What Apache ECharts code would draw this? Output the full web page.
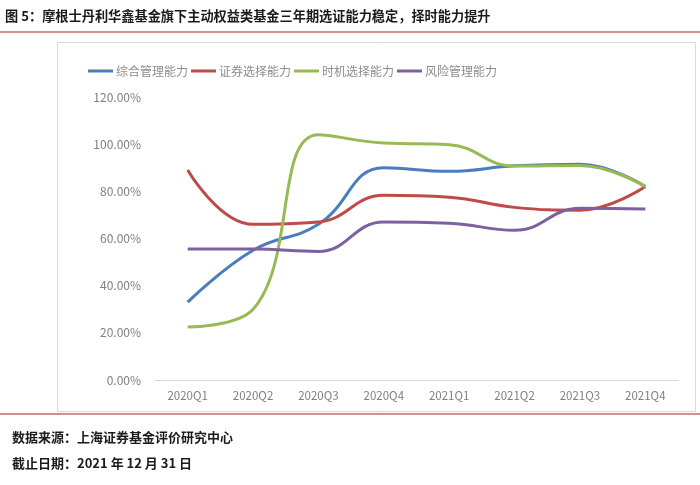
<!DOCTYPE html>
<html><head><meta charset="utf-8">
<script src="https://cdn.jsdelivr.net/npm/echarts@6/dist/echarts.min.js"></script>
<style>html,body{margin:0;padding:0;background:#fff}#c{width:700px;height:485px}</style>
</head><body><div id="c"></div>
<script>
const titleText = '图 5：摩根士丹利华鑫基金旗下主动权益类基金三年期选证能力稳定，择时能力提升';
const sourceText = '数据来源：上海证券基金评价研究中心';
const dateText = '截止日期：2021 年 12 月 31 日';
const categories = ['2020Q1','2020Q2','2020Q3','2020Q4','2021Q1','2021Q2','2021Q3','2021Q4'];
const seriesNames = ['综合管理能力','证券选择能力','时机选择能力','风险管理能力'];
const overall   = [33, 55, 66, 90, 88.5, 90.8, 91.5, 82];
const selection = [89, 66, 67, 78.3, 77.5, 73.2, 72, 82];
const timing    = [22.5, 30, 104, 100.5, 99.8, 90.7, 91, 82];
const risk      = [55.5, 55.5, 54.5, 67, 66.5, 63.5, 72.8, 72.5];
const colors = ['#4a7ebb','#be4b48','#98b954','#7d60a0'];
const seriesData = [overall, selection, timing, risk];

const chart = echarts.init(document.getElementById('c'));
const cjk = 'Noto Sans CJK SC';
chart.setOption({
  animation: false,
  backgroundColor: '#fff',
  graphic: [
    {type:'text', left:5, top:9, style:{text:titleText, font:'bold 13.2px "Noto Sans CJK SC"', fill:'#1a1a1a'}},
    {type:'rect', shape:{x:0,y:31,width:700,height:2}, style:{fill:'#d98c8c'}},
    {type:'rect', shape:{x:57.5,y:42.5,width:638,height:369}, style:{fill:'none', stroke:'#d9d9d9', lineWidth:1}},
    {type:'rect', shape:{x:0,y:413,width:700,height:2}, style:{fill:'#d98c8c'}},
    {type:'text', left:12, top:431, style:{text:sourceText, font:'bold 13px "Noto Sans CJK SC"', fill:'#1a1a1a'}},
    {type:'text', left:12, top:457, style:{text:dateText, font:'bold 13px "Noto Sans CJK SC"', fill:'#1a1a1a'}}
  ],
  legend: {
    left: 83, top: 60, icon: 'rect', itemWidth: 25, itemHeight: 3, itemGap: 3,
    textStyle: {color:'#8c8c8c', fontSize:12, fontFamily:cjk, padding:[0,0,0,-2]},
    data: seriesNames
  },
  grid: {left:155, right:22, top:97, bottom:105},
  xAxis: {
    type:'category', data: categories, boundaryGap:true,
    axisLine:{lineStyle:{color:'#d9d9d9', width:1}}, axisTick:{show:false},
    axisLabel:{color:'#7f7f7f', fontSize:11.5, fontFamily:cjk, margin:10}
  },
  yAxis: {
    type:'value', min:0, max:120, interval:20,
    axisLine:{show:false}, axisTick:{show:false}, splitLine:{show:false},
    axisLabel:{color:'#7f7f7f', fontSize:12, fontFamily:cjk, margin:14,
      formatter: v => v.toFixed(2) + '%'}
  },
  series: seriesNames.map((n,i)=>({
    name:n, type:'line', data:seriesData[i], smooth:0.45, symbol:'none',
    lineStyle:{color:colors[i], width:3}, itemStyle:{color:colors[i]}
  }))
});
</script></body></html>
